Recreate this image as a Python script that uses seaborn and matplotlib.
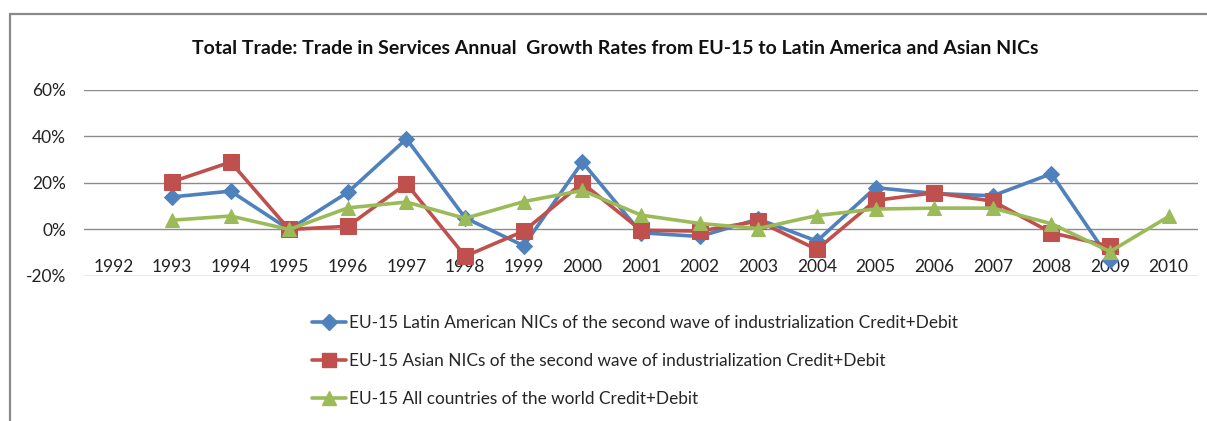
import numpy as np
import pandas as pd
import matplotlib
matplotlib.use("Agg")
import matplotlib.pyplot as plt
from matplotlib.lines import Line2D
import seaborn as sns

years = [str(y) for y in range(1992, 2011)]
latin = [np.nan, 0.14, 0.165, 0.0, 0.16, 0.39, 0.05, -0.07, 0.29, -0.014, -0.03, 0.045,
         -0.05, 0.18, 0.155, 0.145, 0.24, -0.13, np.nan]
asian = [np.nan, 0.205, 0.29, 0.0, 0.014, 0.197, -0.115, -0.007, 0.20, -0.003, -0.007, 0.036,
         -0.086, 0.125, 0.158, 0.122, -0.014, -0.072, np.nan]
world = [np.nan, 0.04, 0.058, 0.0, 0.093, 0.118, 0.048, 0.12, 0.168, 0.062, 0.026, 0.004,
         0.06, 0.088, 0.092, 0.092, 0.025, -0.095, 0.056]
labels = ["EU-15 Latin American NICs of the second wave of industrialization Credit+Debit",
          "EU-15 Asian NICs of the second wave of industrialization Credit+Debit",
          "EU-15 All countries of the world Credit+Debit"]
yticks = [-0.2, 0.0, 0.2, 0.4, 0.6]
ytick_labels = ["-20%", "0%", "20%", "40%", "60%"]
title = "Total Trade: Trade in Services Annual  Growth Rates from EU-15 to Latin America and Asian NICs"

colors = ["#4F81BD", "#C0504D", "#9BBB59"]
markers = ["D", "s", "^"]
msizes = [8.5, 11, 10.5]

sns.set_style("white")
plt.rcParams["font.family"] = ["Lato", "DejaVu Sans"]

rows = []
for lab, vals in zip(labels, [latin, asian, world]):
    for i, v in enumerate(vals):
        rows.append({"x": i, "value": v, "series": lab})
df = pd.DataFrame(rows).dropna()

fig = plt.figure(figsize=(12.07, 4.21), dpi=100)
W, H = 1207, 421
ax = fig.add_axes([84 / W, 1 - 276 / H, (1198 - 84) / W, (276 - 90) / H])

for lab, c, m, ms in zip(labels, colors, markers, msizes):
    sub = df[df["series"] == lab]
    sns.lineplot(data=sub, x="x", y="value", ax=ax, color=c, marker=m, markersize=ms,
                 markeredgecolor=c, linewidth=2.6, legend=False, zorder=3)

ax.set_xlim(-0.5, len(years) - 0.5)
ax.set_ylim(-0.2, 0.6)
ax.set_xticks(range(len(years)))
ax.set_xticklabels(years, fontsize=12.5, color="#222222")
ax.set_yticks(yticks)
ax.set_yticklabels(ytick_labels, fontsize=12.5, color="#222222")
ax.tick_params(axis="x", length=0, pad=-12)
ax.tick_params(axis="y", length=0, pad=13)
ax.set_xlabel("")
ax.set_ylabel("")
for s in ax.spines.values():
    s.set_visible(False)
ax.yaxis.grid(True, color="#8c8c8c", linewidth=1.0)
ax.xaxis.grid(False)
ax.set_axisbelow(True)

fig.text(0.510, 1 - 48 / H, title, ha="center", va="center", fontsize=14,
         fontweight="bold", color="#111111")

handles = [Line2D([0], [0], color=c, marker=m, markersize=ms * 0.9, linewidth=2.6,
                  markeredgecolor=c) for c, m, ms in zip(colors, markers, msizes)]
fig.legend(handles, labels, loc="upper left", bbox_to_anchor=(303 / W, 1 - 306 / H),
           frameon=False, fontsize=12.4, handlelength=2.0, handletextpad=0.15,
           labelspacing=1.3, borderpad=0)

fig.add_artist(Line2D([10 / W, 1.0], [1 - 14 / H, 1 - 14 / H], transform=fig.transFigure,
                      color="#8a8a8a", linewidth=1.6))
fig.add_artist(Line2D([10 / W, 10 / W], [1 - 14 / H, 0], transform=fig.transFigure,
                      color="#8a8a8a", linewidth=1.6))

fig.savefig("out.png", dpi=100)
